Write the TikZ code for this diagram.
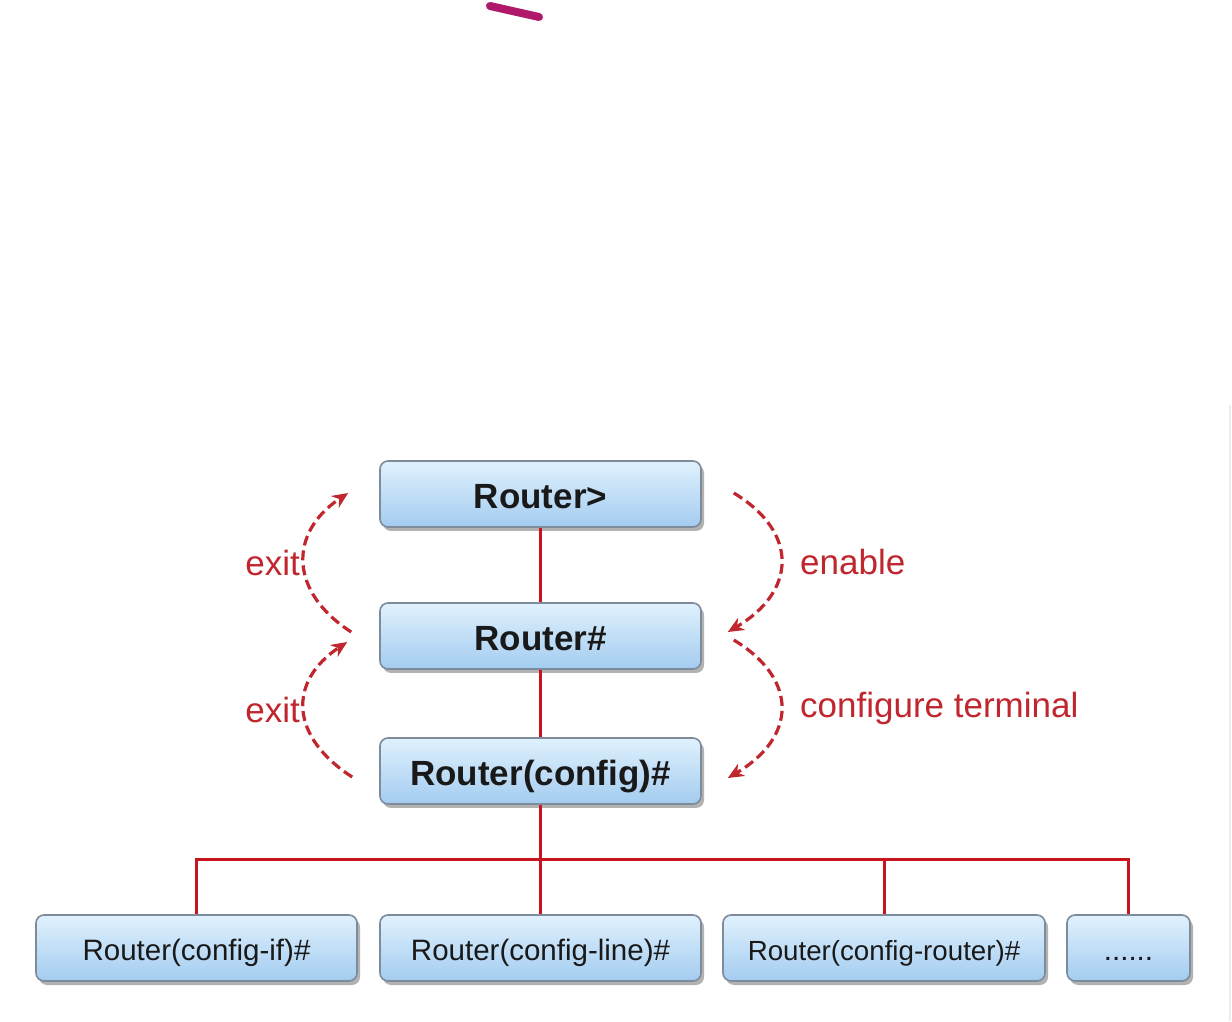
\documentclass[tikz,border=0pt]{standalone}
\usepackage{fontspec}
\setmainfont{Liberation Sans}
\usetikzlibrary{shadows,arrows.meta}
\definecolor{boxtop}{HTML}{E0F1FD}
\definecolor{boxbot}{HTML}{A3CCF0}
\definecolor{boxline}{HTML}{7D8B9B}
\definecolor{wirered}{HTML}{C8141E}
\definecolor{modered}{HTML}{C0262E}
\definecolor{penmark}{HTML}{B0186A}
\begin{document}
\begin{tikzpicture}[x=1pt, y=1pt]
    \tikzset{
      mode/.style={draw=boxline, line width=1.6pt, rounded corners=8pt,
        top color=boxtop, bottom color=boxbot, minimum height=66pt, inner sep=0pt,
        text=black!90, text depth=0pt,
        drop shadow={shadow xshift=3pt, shadow yshift=-4pt, fill=black, opacity=0.3}},
      mainmode/.style={mode, minimum width=321pt, text height=29pt,
        font=\fontsize{35}{40}\selectfont\bfseries},
      submode/.style={mode, text height=24pt, font=\fontsize{29.5}{34}\selectfont},
      wire/.style={draw=wirered, line width=3pt},
      cmd/.style={draw=modered, line width=3.2pt, dash pattern=on 10pt off 5pt,
        -{Stealth[length=16pt,width=14pt]}},
      cmdtxt/.style={text=modered, font=\fontsize{35}{40}\selectfont, inner sep=0pt},
    }
    \useasboundingbox (0,0) rectangle (1232,1021);
    % ===== stray pen mark and page edge =====
    \draw[penmark, line width=8pt, line cap=round] (490,1015) -- (539,1004);
    \draw[black!7, line width=2pt] (1230,616) -- (1230,0);
    % ===== mode chain =====
    \node[mainmode] (r1) at (540.5,527) {Router>};
    \node[mainmode] (r2) at (540.5,385) {Router\#};
    \node[mainmode] (r3) at (540.5,250) {Router(config)\#};
    \draw[wire] (r1.south) -- (r2.north);
    \draw[wire] (r2.south) -- (r3.north);
    % ===== sub modes =====
    \node[submode, minimum width=321pt] (b1) at (196.5,73) {Router(config-if)\#};
    \node[submode, minimum width=321pt] (b2) at (540.5,73) {Router(config-line)\#};
    \node[submode, minimum width=322pt, font=\fontsize{27.7}{34}\selectfont] (b3) at (884,73) {Router(config-router)\#};
    \node[submode, minimum width=123pt] (b4) at (1128.5,73) {......};
    \draw[wire] (r3.south) -- ++(0,-55) coordinate (bus);
    \draw[wire] (b1.north) -- (b1.north |- bus) -- (b4.north |- bus) -- (b4.north);
    \draw[wire] (bus) -- (b2.north);
    \draw[wire] (b3.north) -- (b3.north |- bus);
    % ===== commands =====
    \draw[cmd] ([shift={(32,1)}]r1.east) .. controls +(66,-40) and +(68,40) .. ([shift={(26,4)}]r2.east);
    \draw[cmd] ([shift={(32,-4)}]r2.east) .. controls +(66,-40) and +(68,40) .. ([shift={(26,-7)}]r3.east);
    \draw[cmd] ([shift={(-28,4)}]r2.west) .. controls +(-62,40) and +(-60,-40) .. ([shift={(-31,1)}]r1.west);
    \draw[cmd] ([shift={(-27,-6)}]r3.west) .. controls +(-62,40) and +(-60,-40) .. ([shift={(-32,-6)}]r2.west);
    \node[cmdtxt, anchor=base east] (x1) at (300,445) {exit};
    \node[cmdtxt, anchor=base east] (x2) at (300,298) {exit};
    \node[cmdtxt, anchor=base west] (en) at (800,446) {enable};
    \node[cmdtxt, anchor=base west] (ct) at (800,303) {configure terminal};
\end{tikzpicture}
\end{document}
